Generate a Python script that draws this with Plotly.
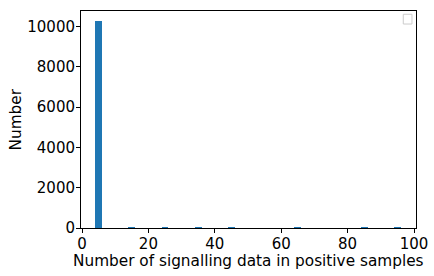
import plotly.graph_objects as go

# histogram bins (centres) and counts
bin_centres = [5, 15, 25, 35, 45, 65, 85, 95]
counts = [10250, 30, 30, 30, 30, 30, 30, 30]

x_ticks = [0, 20, 40, 60, 80, 100]
y_ticks = [0, 2000, 4000, 6000, 8000, 10000]

fig = go.Figure(
    go.Bar(
        x=bin_centres,
        y=counts,
        width=2.0,
        marker={"color": "#1f77b4", "line": {"width": 0}},
        showlegend=False,
    )
)

axis_style = dict(
    showline=True,
    linecolor="black",
    linewidth=1,
    mirror=True,
    ticks="outside",
    ticklen=4,
    tickcolor="black",
    showgrid=False,
    zeroline=False,
    automargin=False,
    tickfont={"size": 15, "color": "black"},
)

fig.update_xaxes(range=[-0.3, 100.6], tickvals=x_ticks, ticktext=[str(v) for v in x_ticks],
                 ticklabelstandoff=-2, **axis_style)
fig.update_yaxes(range=[0, 10760], tickvals=y_ticks, ticktext=[str(v) for v in y_ticks],
                 ticklabelstandoff=-2, **axis_style)

# axis titles as annotations for exact placement
fig.add_annotation(
    text="Number of signalling data in positive samples",
    xref="paper", yref="paper", x=0.5, y=0, yshift=-33,
    xanchor="center", yanchor="middle", showarrow=False, font={"size": 15.3},
)
fig.add_annotation(
    text="Number", textangle=-90,
    xref="paper", yref="paper", x=0, y=0.5, xshift=-66,
    xanchor="center", yanchor="middle", showarrow=False, font={"size": 15.3},
)

# empty legend box in the top right corner
fig.add_shape(
    type="rect", xref="paper", yref="paper",
    x0=0.962, x1=0.988, y0=0.94, y1=0.985,
    line={"color": "#cccccc", "width": 1}, fillcolor="white",
)

fig.update_layout(
    width=434,
    height=276,
    margin={"l": 81, "r": 18, "t": 11, "b": 48, "autoexpand": False},
    plot_bgcolor="white",
    paper_bgcolor="white",
    font={"family": "DejaVu Sans", "color": "black"},
    bargap=0,
)

fig.write_html(
    "out.html",
    config={"displayModeBar": False},
    post_script="document.body.style.margin = '0';",
)
